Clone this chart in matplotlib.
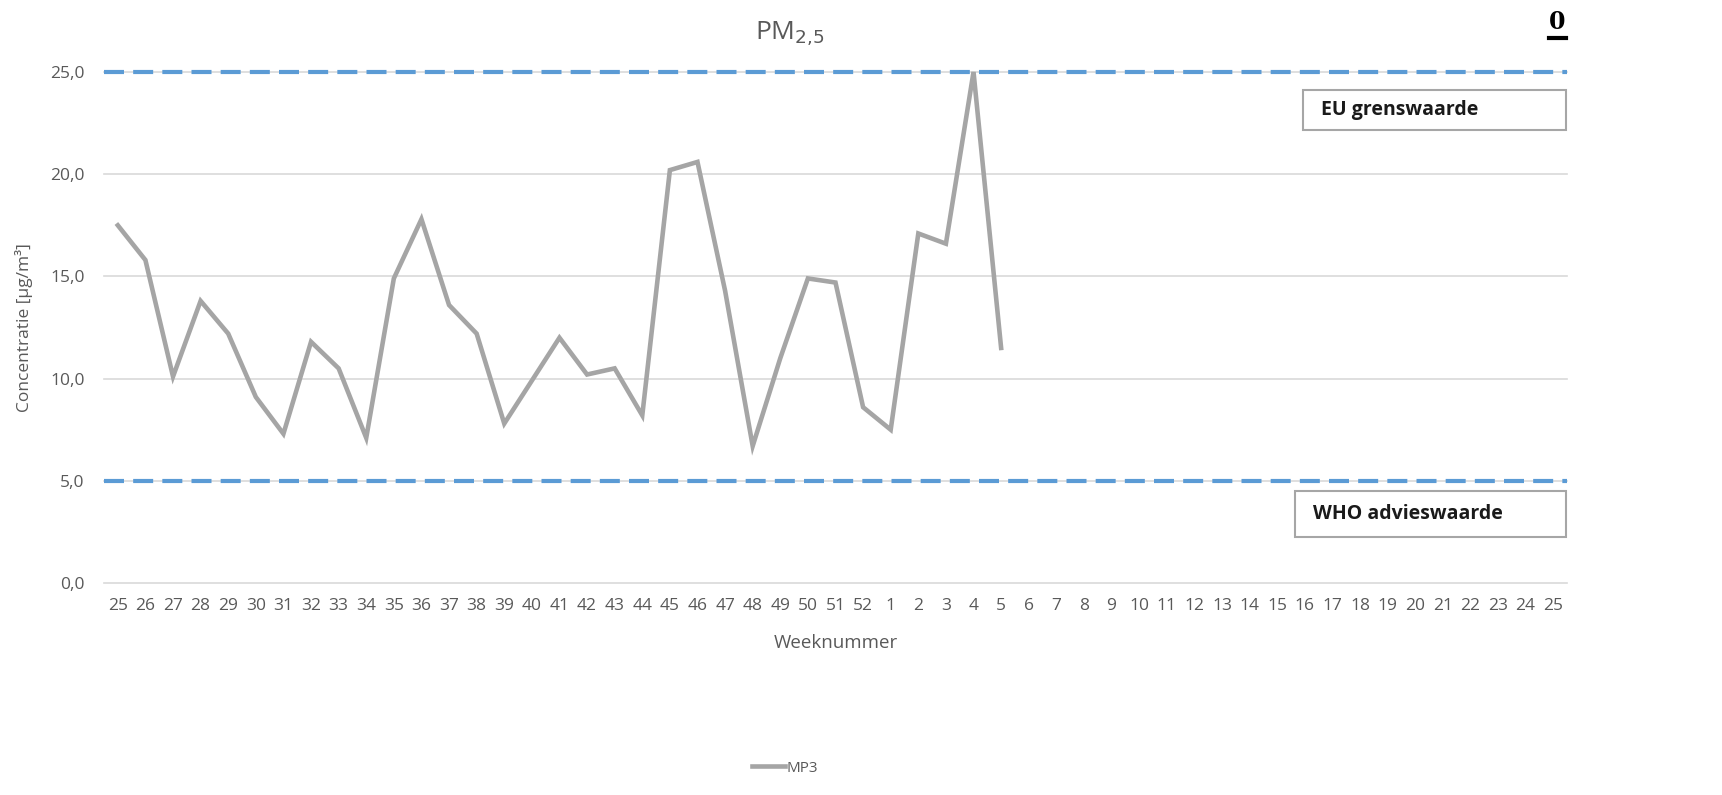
import numpy as np
from matplotlib import pyplot as plt
from matplotlib.patches import Rectangle

plt.rcParams['font.family'] = ['Open Sans', 'DejaVu Sans']

# weeknummers (week 25 t/m 52, daarna 1 t/m 25)
weken = [str(w) for w in range(25, 53)] + [str(w) for w in range(1, 26)]

# gemeten PM2,5 concentratie MP3 [ug/m3], week 25 t/m week 5
mp3 = [17.5, 15.8, 10.1, 13.8, 12.2, 9.1, 7.3, 11.8, 10.5, 7.1,
       14.9, 17.8, 13.6, 12.2, 7.8, 9.9, 12.0, 10.2, 10.5, 8.2,
       20.2, 20.6, 14.3, 6.7, 11.0, 14.9, 14.7, 8.6, 7.5, 17.1,
       16.6, 25.0, 11.5]

eu_grens = 25.0 # EU grenswaarde
who_advies = 5.0 # WHO advieswaarde
yticks = [0, 5, 10, 15, 20, 25]

W, H = 1722, 795
fig = plt.figure(figsize=(W/100, H/100), dpi=100)
ax = fig.add_axes([104/W, 1-583/H, (1567-104)/W, (583-72)/H])

x = np.arange(len(weken))
ax.plot(x[:len(mp3)], mp3, color='#A5A5A5', lw=3.3, solid_joinstyle='miter',
        label='MP3', zorder=3, clip_on=False)

for y in yticks:
    ax.axhline(y, color='#D9D9D9', lw=1.2, zorder=1, clip_on=False)

for y in [eu_grens, who_advies]:
    ax.axhline(y, color='#5B9BD5', lw=3, ls=(0, (4.8, 2.2)), zorder=2, clip_on=False)

ax.set_xlim(-0.5, len(weken) - 0.5)
ax.set_ylim(0, 25)
ax.set_xticks(x)
ax.set_xticklabels(weken)
ax.set_yticks(yticks)
ax.set_yticklabels([('%.1f' % v).replace('.', ',') for v in yticks])
ax.tick_params(length=0, labelsize=12.5, colors='#595959')
ax.tick_params(axis='x', pad=11)
ax.tick_params(axis='y', pad=14)
for s in ax.spines.values():
    s.set_visible(False)

ax.set_xlabel('Weeknummer', fontsize=13.5, color='#595959', labelpad=14)
ax.set_ylabel('Concentratie [µg/m³]', fontsize=12.5, color='#595959', labelpad=12)

fig.text(790/W, 1-34/H, 'PM$_{2{,}5}$', ha='center', va='center',
         fontsize=19, color='#595959')

# tekstvakken
for (x0, x1, y0, y1, tekst) in [(1303, 1566, 90, 130, 'EU grenswaarde'),
                                (1295, 1566, 491, 537, 'WHO advieswaarde')]:
    fig.add_artist(Rectangle((x0/W, 1-y1/H), (x1-x0)/W, (y1-y0)/H,
                             transform=fig.transFigure, fc='white',
                             ec='#A6A6A6', lw=1.5, zorder=5))
    fig.text((x0+18)/W, 1-(y0+y1)/2/H, tekst, ha='left', va='center',
             fontsize=14, fontweight='bold', color='#1A1A1A', zorder=6)

# afgesneden tekst rechtsboven
fig.text(1557/W, 1-22/H, '0', ha='center', va='center',
         fontsize=17, fontweight='bold', color='black', family='DejaVu Serif')
fig.add_artist(plt.Line2D([1549/W, 1566/W], [1-38/H, 1-38/H],
                          color='black', lw=3))

leg = fig.legend(loc='center', bbox_to_anchor=(785/W, 1-768/H), frameon=False,
                 fontsize=11, handlelength=2.2, handletextpad=0.1)
for t in leg.get_texts():
    t.set_color('#595959')

fig.savefig('out.png', dpi=100, facecolor='white')
